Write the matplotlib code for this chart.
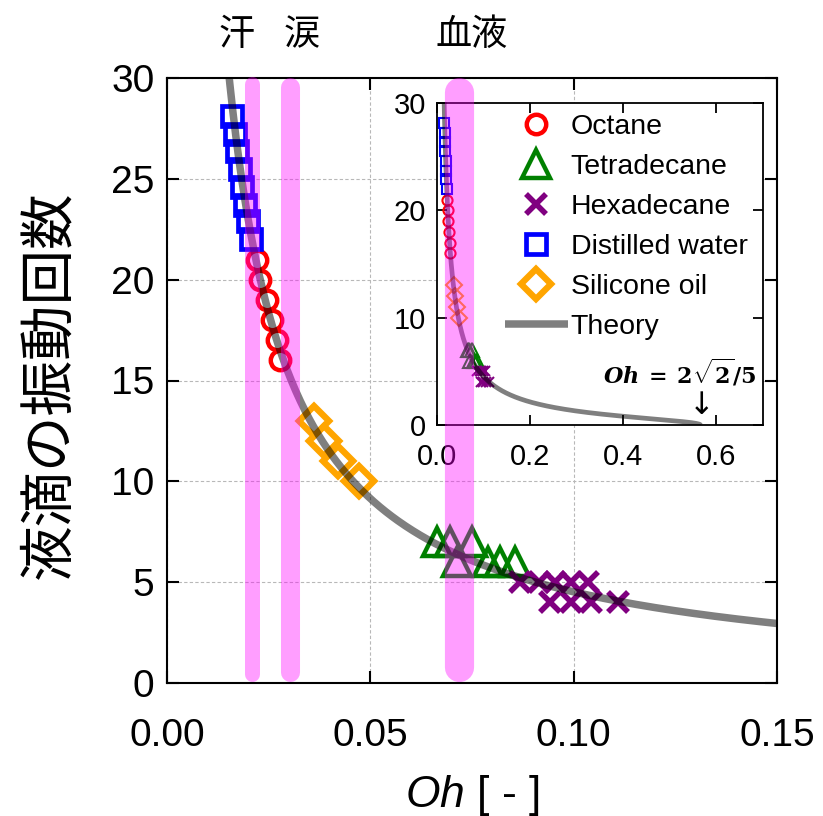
import numpy as np
import matplotlib
matplotlib.use('Agg')
import matplotlib.pyplot as plt
from matplotlib.lines import Line2D

plt.rcParams['font.family'] = ['Liberation Sans', 'Noto Sans CJK JP', 'DejaVu Sans']
plt.rcParams['mathtext.fontset'] = 'custom'
plt.rcParams['mathtext.rm'] = 'Liberation Sans'
plt.rcParams['mathtext.it'] = 'Liberation Sans:italic'
plt.rcParams['mathtext.bf'] = 'DejaVu Serif:bold'
plt.rcParams['mathtext.bfit'] = 'DejaVu Serif:italic:bold'

# measured points (Oh, number of oscillations)
water_oh = [0.0160, 0.0167, 0.0173, 0.0179, 0.0185, 0.0192, 0.0199, 0.0206]
water_n = [28.1, 27.2, 26.4, 25.5, 24.6, 23.7, 22.9, 22.0]
octane_oh = [0.0221, 0.0229, 0.0246, 0.0258, 0.0270, 0.0278]
octane_n = [21, 20, 19, 18, 17, 16]
silicone_oh = [0.0362, 0.0385, 0.0420, 0.0472]
silicone_n = [13, 12, 11, 10]
tetra_oh = [0.0664, 0.0695, 0.0750, 0.0714, 0.0790, 0.0818, 0.0855]
tetra_n = [7, 7, 7, 6, 6, 6, 6]
hexa_oh = [0.0868, 0.0915, 0.0955, 0.0993, 0.1035, 0.0943, 0.0993, 0.1042, 0.1108]
hexa_n = [5, 5, 5, 5, 5, 4, 4, 4, 4]

# theory: l=2 Lamb mode, damping 5*Oh, stops at Oh = 2*sqrt(2)/5
oh_crit = 2 * np.sqrt(2) / 5
log_decay = 5.1

# body fluids (Oh position)
fluid_names = ['汗', '涙', '血液']
fluid_oh = [0.0208, 0.0303, 0.0719]

xticks = [0.00, 0.05, 0.10, 0.15]
xticklabels = ['0.00', '0.05', '0.10', '0.15']
yticks = [0, 5, 10, 15, 20, 25, 30]
in_xticks = [0.0, 0.2, 0.4, 0.6]
in_xticklabels = ['0.0', '0.2', '0.4', '0.6']
in_yticks = [0, 10, 20, 30]


def theory(oh):
    return log_decay * np.sqrt(np.clip(8 - 25 * oh ** 2, 0, None)) / (10 * np.pi * oh)


oh_line = np.linspace(0.0125, oh_crit, 1500)
n_line = theory(oh_line)

fig = plt.figure(figsize=(8.23, 8.16), dpi=100)
ax = fig.add_axes([167 / 823, 1 - 683 / 816, 610 / 823, 605 / 816])

series = [
    ('Octane', octane_oh, octane_n, 'o', '#ff0000', 14, 3.2),
    ('Tetradecane', tetra_oh, tetra_n, '^', '#008000', 20, 3.2),
    ('Hexadecane', hexa_oh, hexa_n, 'x', '#800080', 15, 4.0),
    ('Distilled water', water_oh, water_n, 's', '#0000ff', 14, 3.4),
    ('Silicone oil', silicone_oh, silicone_n, 'D', '#ffa500', 15, 4.6),
]

handles = []
for name, xs, ys, mk, col, ms, mew in series:
    h, = ax.plot(xs, ys, linestyle='none', marker=mk, ms=ms, mew=mew,
                 mfc='none', mec=col, label=name, zorder=2)
    handles.append(h)
th, = ax.plot(oh_line, n_line, color='black', alpha=0.5, lw=5.4,
              solid_capstyle='butt', label='Theory', zorder=3)
handles.append(th)

ax.set_xlim(0, 0.15)
ax.set_ylim(0, 30)
ax.set_xticks(xticks)
ax.set_xticklabels(xticklabels)
ax.set_yticks(yticks)
ax.grid(True, color='#b8b8b8', linestyle=(0, (3, 2)), linewidth=0.8)
ax.set_axisbelow(True)
ax.tick_params(direction='in', length=8.5, width=1.5, top=True, right=True,
               labelsize=28)
ax.tick_params(axis='x', pad=25)
ax.tick_params(axis='y', pad=9)
for sp in ax.spines.values():
    sp.set_linewidth(1.5)

# inset
ax_in = fig.add_axes([437 / 823, 1 - 425 / 816, 326 / 823, 322 / 816])
for name, xs, ys, mk, col, ms, mew in series:
    ax_in.plot(xs, ys, linestyle='none', marker=mk, ms=ms * 0.52, mew=1.5,
               mfc='none', mec=col, zorder=2)
ax_in.plot(oh_line, n_line, color='black', alpha=0.5, lw=3.4,
           solid_capstyle='butt', zorder=3)
ax_in.set_xlim(0, 0.7)
ax_in.set_ylim(0, 30)
ax_in.set_xticks(in_xticks)
ax_in.set_xticklabels(in_xticklabels)
ax_in.set_yticks(in_yticks)
ax_in.tick_params(direction='in', length=7, width=1.3, top=True, right=True,
                  labelsize=21)
ax_in.tick_params(axis='x', pad=13)
ax_in.tick_params(axis='y', pad=8)
for sp in ax_in.spines.values():
    sp.set_linewidth(1.3)

ax_in.legend(handles, [h.get_label() for h in handles], loc='upper left',
             bbox_to_anchor=(0.209, 0.965), frameon=False, borderpad=0,
             borderaxespad=0, handlelength=2.2, handletextpad=0.1,
             labelspacing=0.49, fontsize=20.5)

ax_in.text(0.522, 4.9, r'$\mathbfit{Oh}\ \mathbf{=}\ \mathbf{2}\sqrt{\mathbf{2}}\mathbf{/5}$',
           fontsize=16, ha='center', va='center')
ax_in.text(0.569, 1.8, '↓', fontsize=22, ha='center', va='center',
           family=['DejaVu Sans'])

# pink bands for body fluids, on top of both axes
band_lw = [10.8, 13.7, 21.0]
px_per_n = 605 / 30
for oh, lw in zip(fluid_oh, band_lw):
    r = lw * 100 / 72 / 2 / px_per_n
    ln = Line2D([oh, oh], [0.05 + r, 30.05 - r], transform=ax.transData,
                color='#ff00ff', alpha=0.38, lw=lw, solid_capstyle='round',
                zorder=5)
    fig.add_artist(ln)

label_x = [237, 302, 472]
for name, lx in zip(fluid_names, label_x):
    fig.text(lx / 823, 1 - 35 / 816, name, fontsize=26, ha='center', va='center',
             family=['Noto Sans CJK JP'])

fig.text(50 / 823, 1 - 385 / 816, '液滴の振動回数', rotation=90, fontsize=40,
         ha='center', va='center', family=['Noto Sans CJK JP'])
fig.text(472 / 823, 1 - 795 / 816, r'$Oh$ [ - ]', fontsize=32,
         ha='center', va='center')

fig.savefig('out.png', dpi=100)
